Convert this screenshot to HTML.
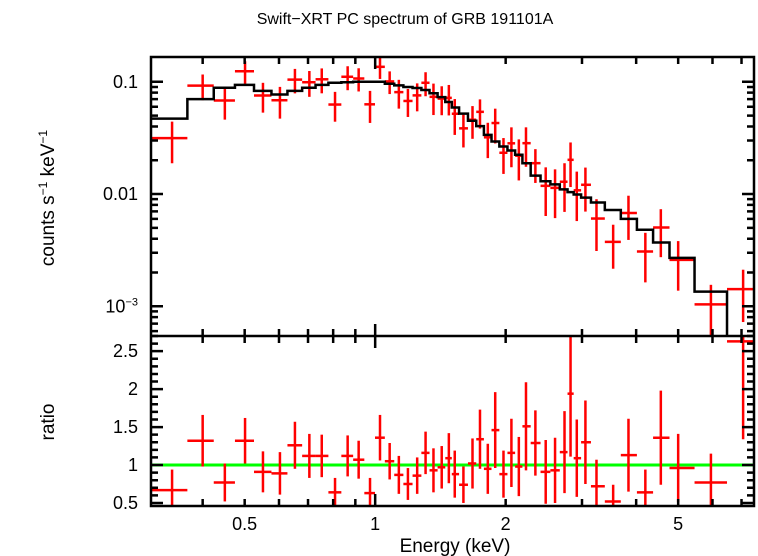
<!DOCTYPE html>
<html><head><meta charset="utf-8"><style>
html,body{margin:0;padding:0;background:#fff;}
svg{display:block;font-family:"Liberation Sans",sans-serif;}
</style></head><body>
<svg id="chart" width="758" height="556" viewBox="0 0 758 556">
<text x="405" y="24" font-size="16" text-anchor="middle">Swift−XRT PC spectrum of GRB 191101A</text>
<text transform="translate(54,198) rotate(-90)" font-size="19" text-anchor="middle">counts s<tspan font-size="12" dy="-7">−1</tspan><tspan dy="7"> keV</tspan><tspan font-size="12" dy="-7">−1</tspan></text>
<text transform="translate(54,422) rotate(-90)" font-size="19" text-anchor="middle">ratio</text>
<text x="455" y="552" font-size="19" text-anchor="middle">Energy (keV)</text>
<g id="g"></g>
</svg>
<script>
const energies=[0.340,0.400,0.450,0.501,0.551,0.603,0.653,0.705,0.753,0.808,0.864,0.916,0.973,1.026,1.08,1.134,1.19,1.25,1.307,1.363,1.424,1.479,1.526,1.598,1.677,1.745,1.819,1.892,1.977,2.062,2.145,2.228,2.342,2.474,2.60,2.734,2.823,2.918,3.055,3.24,3.54,3.84,4.20,4.56,5.0,5.95,7.06];
const modelValues=[0.047,0.070,0.0885,0.094,0.083,0.077,0.083,0.0885,0.094,0.098,0.099,0.1,0.1,0.1,0.096,0.093,0.09,0.088,0.0845,0.079,0.073,0.066,0.059,0.052,0.045,0.0403,0.0337,0.0294,0.0265,0.0244,0.0224,0.0188,0.0146,0.0130,0.0122,0.0110,0.0104,0.0099,0.0093,0.0084,0.0072,0.0060,0.0048,0.0037,0.0027,0.00135,0.00054];
const ratioValues=[0.67,1.32,0.77,1.32,0.91,0.89,1.26,1.12,1.12,0.64,1.12,1.07,0.63,1.36,1.05,0.87,0.75,0.86,1.16,0.93,0.97,1.09,0.88,0.74,1.02,1.34,0.95,1.46,0.88,1.16,0.98,1.51,1.29,0.91,0.93,1.17,1.94,1.09,1.30,0.72,0.52,1.13,0.64,1.36,0.96,0.77,2.63];
const ratioErrors=[0.27,0.34,0.25,0.30,0.27,0.28,0.31,0.29,0.28,0.19,0.27,0.25,0.20,0.30,0.24,0.25,0.21,0.24,0.28,0.29,0.28,0.33,0.31,0.24,0.33,0.39,0.33,0.50,0.31,0.45,0.39,0.58,0.43,0.42,0.43,0.54,0.83,0.51,0.55,0.35,0.22,0.48,0.30,0.62,0.45,0.38,1.29];
const xTickLabels=[0.5,1,2,5];
const countTickLabels=[0.1,0.01,0.001];
const ratioTickLabels=[0.5,1,1.5,2,2.5];
const E_MIN=0.304,E_MAX=7.48;

const L=151,R=754,T1=57,B1=336,B2=506;
const SV="http://www.w3.org/2000/svg";
const g=document.getElementById('g');
function xs(e){return L+(Math.log10(e)-Math.log10(E_MIN))/(Math.log10(E_MAX)-Math.log10(E_MIN))*(R-L);}
const YTOP=-0.779,YBOT=-3.265;
function ys(v){return T1+(YTOP-Math.log10(Math.max(v,1e-6)))/(YTOP-YBOT)*(B1-T1);}
const RTOP=2.70,RBOT=0.46;
function yr(v){return B1+(RTOP-v)/(RTOP-RBOT)*(B2-B1);}
function el(t,a,p){const e=document.createElementNS(SV,t);for(const k in a)e.setAttribute(k,a[k]);(p||g).appendChild(e);return e;}
const edges=[E_MIN];
for(let i=0;i<energies.length-1;i++)edges.push(Math.sqrt(energies[i]*energies[i+1]));
edges.push(E_MAX);
const defs=el('defs',{});
const c1=el('clipPath',{id:'c1'},defs);el('rect',{x:L,y:T1,width:R-L,height:B1-T1},c1);
const c2=el('clipPath',{id:'c2'},defs);el('rect',{x:L,y:B1,width:R-L,height:B2-B1},c2);
const topG=el('g',{'clip-path':'url(#c1)'});


const botG=el('g',{'clip-path':'url(#c2)'});


for(let i=0;i<energies.length;i++){
  const m=modelValues[i],d=m*ratioValues[i],de=m*ratioErrors[i];
  const cx=xs(energies[i]),cy=ys(d);
  const h=el('line',{x1:xs(edges[i]),x2:xs(edges[i+1]),y1:cy,y2:cy,stroke:'#f00','stroke-width':2.5},topG);
  
  
  const v=el('line',{x1:cx,x2:cx,y1:ys(d+de),y2:ys(d-de),stroke:'#f00','stroke-width':2.5},topG);
  
  
}
let p='';
for(let i=0;i<energies.length;i++){
  const y=ys(modelValues[i]);
  p+=(i==0?'M':'L')+xs(edges[i])+','+y+'L'+xs(edges[i+1])+','+y;
}
p+='L'+xs(E_MAX)+','+(B1+5);
const mp=el('path',{d:p,fill:'none',stroke:'#000','stroke-width':2.5},topG);


const gl=el('line',{x1:L,x2:R,y1:yr(1),y2:yr(1),stroke:'#0f0','stroke-width':3},botG);


for(let i=0;i<energies.length;i++){
  const r=ratioValues[i],e=ratioErrors[i],cx=xs(energies[i]),cy=yr(r);
  const h=el('line',{x1:xs(edges[i]),x2:xs(edges[i+1]),y1:cy,y2:cy,stroke:'#f00','stroke-width':2.5},botG);
  
  
  const v=el('line',{x1:cx,x2:cx,y1:yr(r+e),y2:yr(r-e),stroke:'#f00','stroke-width':2.5},botG);
  
  
}
const f=el('path',{d:`M${L},${T1}H${R}V${B2}H${L}Z M${L},${B1}H${R}`,fill:'none',stroke:'#000','stroke-width':2.5});


const xt=[0.4,0.5,0.6,0.7,0.8,0.9,1,2,3,4,5,6,7];
let tp='';
for(const e of xt){const x=xs(e),len=e==1?12:7;
  tp+=`M${x},${T1}v${len}M${x},${B1}v${-len}M${x},${B1}v${len}M${x},${B2}v${-len}`;}
for(let d=-4;d<0;d++)for(let k=1;k<10;k++){const v=k*Math.pow(10,d);const y=ys(v);
  if(y<T1||y>B1)continue;const len=k==1?12:7;tp+=`M${L},${y}h${len}M${R},${y}h${-len}`;}
for(let k=5;k<=27;k++){const v=k/10;const y=yr(v);if(y<B1||y>B2)continue;const len=k%5==0?12:7;
  tp+=`M${L},${y}h${len}M${R},${y}h${-len}`;}
const tk=el('path',{d:tp,fill:'none',stroke:'#000','stroke-width':2.5});


for(const e of xTickLabels){const t=el('text',{x:xs(e),y:530,'font-size':18,'text-anchor':'middle'});t.textContent=String(e);
  
  }
for(const v of countTickLabels){const t=el('text',{x:138,y:ys(v)+6,'font-size':18,'text-anchor':'end'});
  if(v<0.005){t.innerHTML='10<tspan font-size="11" dy="-7">−3</tspan>';}else t.textContent=String(v);
  
  }
for(const v of ratioTickLabels){const t=el('text',{x:138,y:yr(v)+6,'font-size':18,'text-anchor':'end'});t.textContent=String(v);
  
  }
</script>
</body></html>
